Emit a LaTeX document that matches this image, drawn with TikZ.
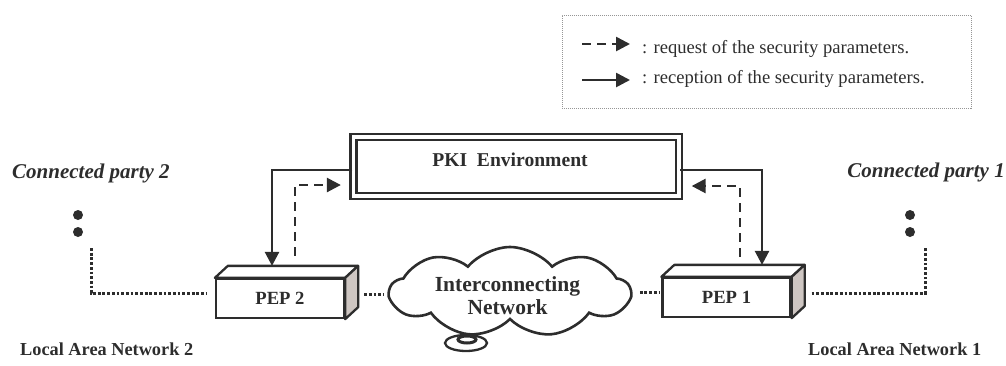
\documentclass[tikz,border=0pt]{standalone}
\usepackage{fontspec}
\setmainfont{Liberation Serif}
\usetikzlibrary{arrows.meta,shapes.symbols,calc}
\definecolor{ink}{RGB}{45,45,45}
\definecolor{sideface}{RGB}{206,198,194}
\definecolor{framegray}{RGB}{150,150,150}

\begin{document}
\begin{tikzpicture}[x=1pt,y=-1pt,
  inkline/.style={draw=ink, line width=2.6pt},
  tipstyle/.style={-{Triangle[length=14pt,width=14pt]}},
  solidarrow/.style={inkline, tipstyle},
  dasharrow/.style={inkline, tipstyle, dash pattern=on 9pt off 6pt},
  dotline/.style={draw=ink, line width=3pt, dash pattern=on 2.8pt off 1.9pt},
  pepfront/.style={draw=ink, line width=2.3pt, fill=white, minimum width=128pt,
    minimum height=39pt, inner sep=0pt, text=ink,
    font=\fontsize{18.6}{20}\selectfont\bfseries},
  partylabel/.style={text=ink, inner sep=0pt, font=\fontsize{21}{24}\selectfont\bfseries\itshape},
  lanlabel/.style={text=ink, inner sep=0pt, font=\fontsize{18.3}{20}\selectfont\bfseries},
  legendtext/.style={text=ink, inner sep=0pt, anchor=base west, font=\fontsize{18.6}{20}\selectfont},
  dot/.style={fill=ink}
]
\useasboundingbox (0,0) rectangle (1006,365);

% legend
\node[draw=framegray, line width=1pt, dash pattern=on 1pt off 1pt,
      minimum width=409pt, minimum height=93pt, inner sep=0pt] (legend) at (766.5,61.5) {};
\coordinate (lg1a) at (582,44);
\coordinate (lg1b) at (630,44);
\coordinate (lg2a) at (582,80);
\coordinate (lg2b) at (630,80);
\draw[dasharrow] (lg1a) -- (lg1b);
\draw[solidarrow] (lg2a) -- (lg2b);
\node[legendtext] (lgreq) at (642,53) {: request of the security parameters.};
\node[legendtext] (lgrec) at (642,83.5) {: reception of the security parameters.};

% PKI environment (double frame)
\node[draw=ink, double, double distance=3.6pt, line width=2.3pt,
      minimum width=325.5pt, minimum height=59pt, inner sep=0pt] (pki) at (516.25,166.5) {};
\node[text=ink, inner sep=0pt, anchor=base, font=\fontsize{19.6}{22}\selectfont\bfseries]
      (pkilabel) at (510,166) {PKI\ \ Environment};

% policy enforcement points (3D boxes)
\node[pepfront] (pep2) at (280,298.5) {PEP 2};
\node[pepfront] (pep1) at (726.5,297.5) {PEP 1};
\foreach \b in {pep1,pep2}{
  \draw[draw=ink, line width=2.3pt, line join=round, fill=white]
    (\b.north west) -- ++(13,-12) -- ($(\b.north east)+(13,-12)$) -- (\b.north east) -- cycle;
  \draw[draw=ink, line width=2.3pt, line join=round, fill=sideface]
    (\b.north east) -- ++(13,-12) -- ($(\b.south east)+(13,-12)$) -- (\b.south east) -- cycle;
}

% interconnecting network (cloud with a small disk below)
\draw[draw=ink, line width=2.3pt, fill=white] (466,343) ellipse [x radius=21pt, y radius=8pt];
\draw[draw=ink, line width=3pt] (467,339.5) ellipse [x radius=9pt, y radius=3.5pt];
\node[cloud, cloud puffs=9, cloud puff arc=100, draw=ink, line width=2.6pt, fill=white,
      minimum width=240pt, minimum height=90pt, inner sep=0pt] (net) at (510,292) {};
\node[text=ink, inner sep=0pt, align=center, font=\fontsize{21.5}{23}\selectfont\bfseries]
      (netlabel) at (507.5,296) {Interconnecting\\Network};

% requests and receptions of the security parameters
\coordinate (p2in) at ($(pep2.north)+(-8,-12)$);
\coordinate (p2out) at ($(pep2.north)+(15,-22)$);
\coordinate (p1in) at ($(pep1.north)+(35.5,-12)$);
\coordinate (p1out) at ($(pep1.north)+(13.5,-20)$);
\draw[solidarrow] ([yshift=-3.5pt]pki.west) -| (p2in);
\draw[dasharrow, shorten >=11.5pt] (p2out) |- ([yshift=-18.5pt]pki.west);
\draw[solidarrow] ([yshift=-3.5pt]pki.east) -| (p1in);
\draw[dasharrow, shorten >=11.5pt] (p1out) |- ([yshift=-19.5pt]pki.east);

% local area networks
\coordinate (lan2top) at (91,248);
\coordinate (lan2corner) at (91,293);
\coordinate (lan1top) at (925,248);
\coordinate (lan1corner) at (925,293);
\draw[dotline, shorten >=8pt] (lan2top) -- (lan2corner) -- (lan2corner -| pep2.west);
\draw[dotline, shorten <=6pt, shorten >=3pt] ($(pep2.east)+(13,-4.5)$) -- (net.west |- 0,294);
\draw[dotline, shorten <=7pt, shorten >=2pt] (net.east) -- (net.east -| pep1.west);
\draw[dotline, shorten <=7pt] ($(pep1.east)+(13,-4.5)$) -- (lan1corner) -- (lan1top);

\fill[dot] (78,215) circle[radius=5pt];
\fill[dot] (78,232) circle[radius=5pt];
\fill[dot] (910,215) circle[radius=5pt];
\fill[dot] (910,232) circle[radius=5pt];

\node[partylabel, anchor=base west] (party2) at (12,178) {Connected party 2};
\node[partylabel, anchor=base east] (party1) at (1005,177) {Connected party 1};
\node[lanlabel, anchor=base west] (lan2) at (20,355) {Local Area Network 2};
\node[lanlabel, anchor=base west] (lan1) at (808,355) {Local Area Network 1};
\end{tikzpicture}
\end{document}
